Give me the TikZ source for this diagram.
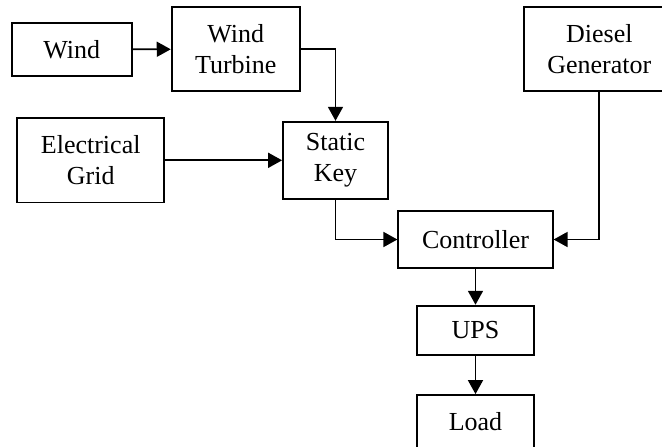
\documentclass[tikz,border=0pt]{standalone}
\usepackage{fontspec}
\setmainfont{Liberation Serif}
\usetikzlibrary{arrows.meta}
\begin{document}
\begin{tikzpicture}[x=1pt,y=-1pt,
 box/.style={draw,line width=1.8pt,align=center,inner sep=0pt,font=\fontsize{26}{31.3}\selectfont},
 arr/.style={line width=1.7pt,-{Triangle[length=14pt,width=15pt]}}]
\useasboundingbox (0,0) rectangle (662,447);
\clip (0,0) rectangle (662,447);
\node[box,minimum width=120pt,minimum height=52.7pt] (wind) at (71.7,49.4) {Wind};
\node[box,minimum width=128.3pt,minimum height=83.7pt] (turb) at (235.8,49.2) {Wind\\Turbine};
\node[box,minimum width=150pt,minimum height=83.7pt] (diesel) at (599.3,49.2) {Diesel\\Generator};
\node[box,minimum width=146.7pt,minimum height=84.3pt] (grid) at (90.7,160.3) {Electrical\\Grid};
\node[box,minimum width=105pt,minimum height=77.6pt] (key) at (335.5,160.5) {Static\\Key};
\node[box,minimum width=154.4pt,minimum height=57.3pt] (ctrl) at (475.5,239.5) {Controller};
\node[box,minimum width=116.7pt,minimum height=49.3pt] (ups) at (475.5,330.3) {UPS};
\node[box,minimum width=117pt,minimum height=54pt] (load) at (475.5,422) {Load};
\draw[arr] (wind) -- (turb);
\draw[arr] (turb.east) -| (key.north);
\draw[arr] (grid.east) -- (key.west |- grid.east);
\draw[arr] (key.south) |- (ctrl.west);
\draw[arr] (diesel.south) |- (ctrl.east);
\draw[arr] (ctrl) -- (ups);
\draw[arr] (ups) -- (load);
\end{tikzpicture}
\end{document}
